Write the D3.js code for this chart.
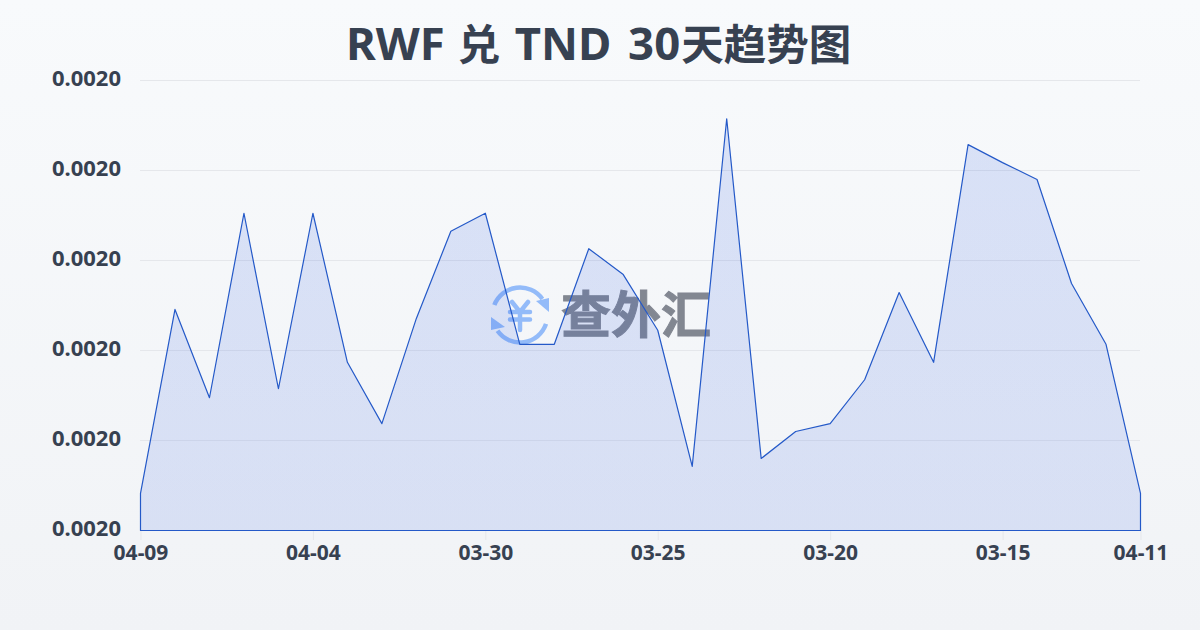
<!DOCTYPE html>
<html><head><meta charset="utf-8">
<script src="https://cdnjs.cloudflare.com/ajax/libs/d3/7.8.5/d3.min.js"></script>
<style>html,body{margin:0;padding:0;background:#f8fafc}svg{display:block}</style>
</head><body><svg id="c" width="1200" height="630"></svg>
<script>
const titleParts = ["RWF ","兑 ","TND ","30","天趋势图"];
const watermarkText = "查外汇";
const categories = ["04-09","04-08","04-07","04-06","04-05","04-04","04-03","04-02","04-01","03-31","03-30","03-29","03-28","03-27","03-26","03-25","03-24","03-23","03-22","03-21","03-20","03-19","03-18","03-17","03-16","03-15","03-14","03-13","03-12","04-11"];
const rates = [.0019666,.0019993,.0019836,.0020164,.0019852,.0020164,.0019899,.0019790,.0019977,.0020132,.0020164,.0019931,.0019931,.0020101,.0020055,.0019956,.0019714,.0020332,.0019728,.0019776,.0019790,.0019868,.0020023,.0019899,.0020286,.0020254,.0020224,.0020039,.0019931,.0019666];
const yTicks = [.00196,.001976,.001992,.002008,.002024,.00204];
const xTickLabels = ["04-09","04-04","03-30","03-25","03-20","03-15","04-11"];
const xTickIdx = [0,5,10,15,20,25,29];

const svg = d3.select("#c");
const defs = svg.append("defs");
const bg = defs.append("linearGradient").attr("id","bg").attr("x1",0).attr("y1",0).attr("x2",0).attr("y2",1);
bg.append("stop").attr("offset",0).attr("stop-color","#f8fafc");
bg.append("stop").attr("offset",1).attr("stop-color","#f1f3f6");
const ag = defs.append("linearGradient").attr("id","ag").attr("gradientUnits","userSpaceOnUse").attr("x1",0).attr("y1",80).attr("x2",0).attr("y2",530);
ag.append("stop").attr("offset",0).attr("stop-color","#2b59e0").attr("stop-opacity",.15);
ag.append("stop").attr("offset",1).attr("stop-color","#2b59e0").attr("stop-opacity",.13);
svg.append("rect").attr("width",1200).attr("height",630).attr("fill","url(#bg)");

const x = d3.scaleLinear().domain([0,categories.length-1]).range([140.5,1140.5]);
const y = d3.scaleLinear().domain([yTicks[0],yTicks[yTicks.length-1]]).range([530.5,80.5]);
const tickFont = "'Noto Sans',sans-serif";

const gy = svg.append("g").attr("transform","translate(140,-2)")
  .call(d3.axisLeft(y).tickValues(yTicks).tickSize(0).tickPadding(19).tickFormat(d=>d.toFixed(4)));
gy.select(".domain").remove();
gy.selectAll("text").attr("font-family",tickFont).attr("font-weight",700).attr("font-size",22).attr("fill","#374151");
svg.append("g").selectAll("line").data(yTicks).join("line")
  .attr("x1",140).attr("x2",1140).attr("y1",d=>y(d)).attr("y2",d=>y(d))
  .attr("stroke","#e5e7eb").attr("stroke-width",1);

const gx = svg.append("g").attr("transform","translate(0,530)")
  .call(d3.axisBottom(x).tickValues(xTickIdx).tickSize(10).tickPadding(5).tickFormat((d,i)=>xTickLabels[i]));
gx.select(".domain").remove();
gx.selectAll("line").attr("stroke","#e5e7eb");
gx.selectAll("text").attr("font-family",tickFont).attr("font-weight",700).attr("font-size",21).attr("fill","#374151");

// watermark
const wm = svg.append("g");
const logo = wm.append("g").attr("transform","translate(520,315)").attr("fill","none").attr("stroke","#93bbf9").attr("stroke-linecap","round");
const arc = d3.arc().innerRadius(27.5).outerRadius(27.5);
logo.append("path").attr("stroke-width",4.5).attr("d",arc({startAngle:-1.2,endAngle:.95}));
logo.append("path").attr("stroke-width",4.5).attr("d",arc({startAngle:1.9,endAngle:4.1}));
logo.append("path").attr("fill","#93bbf9").attr("stroke","none").attr("d","M29 -17 L29 -3 L16 -14 Z");
logo.append("path").attr("fill","#93bbf9").attr("stroke","none").attr("d","M-29 2 L-29 15 L-15 12 Z");
logo.append("path").attr("stroke-width",4.5).attr("d","M-8 -13 L0 -3 L8 -13 M0 -3 V15 M-10 -3 H10 M-10 4.5 H10");
wm.append("text").attr("x",636).attr("y",333).attr("text-anchor","middle")
  .attr("font-family","'Noto Sans CJK SC',sans-serif").attr("font-weight",700).attr("font-size",50)
  .attr("fill","#6f7480").attr("stroke","#6f7480").attr("stroke-width",1).attr("opacity",.85).text(watermarkText);

const area = d3.area().x((d,i)=>x(i)).y0(y(yTicks[0])).y1(d=>y(d));
svg.append("path").datum(rates).attr("d",area).attr("fill","url(#ag)").attr("stroke","#2459c8").attr("stroke-width",1.2).attr("stroke-linejoin","round");

const sizes = [45.5,42.5,45.5,45.5,42.5];
const gaps = [0,1,3.5,5,1];
const title = svg.append("text").attr("x",346).attr("y",60)
  .attr("font-family","'Noto Sans','Noto Sans CJK SC',sans-serif").attr("font-weight",700).attr("fill","#374151");
title.selectAll("tspan").data(titleParts).join("tspan")
  .attr("font-size",(d,i)=>sizes[i]).attr("dx",(d,i)=>gaps[i]).text(d=>d);
</script></body></html>
